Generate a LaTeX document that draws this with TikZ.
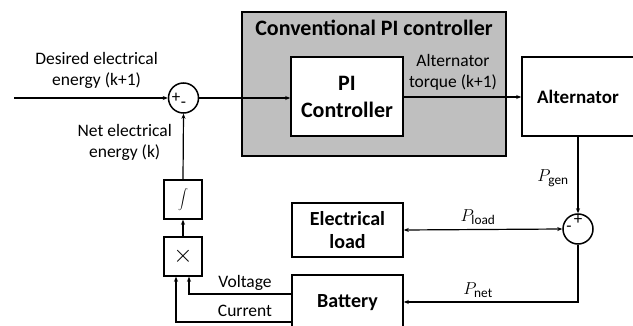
\documentclass[tikz,border=0pt]{standalone}
\usepackage{fontspec}
\setmainfont{Carlito}
\usetikzlibrary{arrows.meta}
\begin{document}
\begin{tikzpicture}[x=1pt,y=-1pt,
  every node/.style={font=\fontsize{17.5}{21}\selectfont, inner sep=0pt},
  blk/.style={draw, line width=1.6pt, fill=white, minimum width=#1, align=center, font=\fontsize{20}{23}\selectfont\bfseries},
  sumc/.style={draw, circle, line width=1.5pt, minimum size=30pt},
  arr/.style={line width=1.2pt, -{Stealth[length=5pt,width=4pt]}},
  darr/.style={line width=1.2pt, {Stealth[length=5pt,width=4pt]}-{Stealth[length=5pt,width=4pt]}},
  lbl/.style={align=center},
  sgn/.style={font=\fontsize{17}{17}\selectfont}]
\clip (0,0) rectangle (633,326);
\fill[white] (0,0) rectangle (633,326);
% gray container
\node[draw, line width=1.6pt, fill=gray!50, minimum width=264pt, minimum height=144pt] (pic) at (374,84) {};
\node[font=\fontsize{22}{25}\selectfont\bfseries] (pictitle) at (374,28) {Conventional PI controller};
% blocks
\node[blk=112pt, minimum height=79pt, font=\fontsize{22}{26}\selectfont\bfseries] (pi) at (347,96.5) {PI\\[1pt]Controller};
\node[blk=112pt, minimum height=79pt, font=\fontsize{19}{22}\selectfont\bfseries] (alt) at (578,96.5) {Alternator};
\node[blk=111pt, minimum height=54pt] (load) at (347.5,230) {Electrical\\load};
\node[blk=111pt, minimum height=56pt] (bat) at (347.5,303) {Battery};
\node[draw, line width=1.5pt, minimum width=38pt, minimum height=39pt, font=\fontsize{22}{24}\selectfont] (int) at (183,199.5) {$\displaystyle\int$};
\node[draw, line width=1.5pt, minimum width=38pt, minimum height=39pt, font=\fontsize{24}{26}\selectfont] (mul) at (183,256.5) {$\times$};
% summing junctions
\node[sumc] (s1) at (183.5,98) {};
\node[sgn] at (176,98) {+};
\node[sgn] at (183.5,105) {-};
\node[sumc] (s2) at (578,229) {};
\node[sgn] at (578,220) {+};
\node[sgn] at (569,229) {-};
% coordinates
\coordinate (in) at (14,98);
\coordinate (c1) at (578,302);
\coordinate (v1) at (189,294);
\coordinate (i1) at (176,322);
% connectors
\draw[arr] (in) -- (s1.west);
\draw[arr] (s1.east) -- (pi.west |- s1.east);
\draw[arr] (pi.east |- 0,97) -- (alt.west |- 0,97);
\draw[arr] (alt.south) -- (s2.north);
\draw[darr] (load.east) -- (s2.west);
\draw[arr] (s2.south) -- (c1) -- (bat.east |- c1);
\draw[arr] (int.north) -- (s1.south);
\draw[arr] (mul.north) -- (int.south);
\draw[arr] (bat.west |- v1) -- (v1) -- (v1 |- mul.south);
\draw[arr] (bat.west |- i1) -- (i1) -- (i1 |- mul.south);
% labels
\node[lbl, anchor=east] (l1) at (158,70) {Desired electrical\\energy (k+1)};
\node[lbl, anchor=east] (l2) at (172,142) {Net electrical\\energy (k)};
\node[lbl] (l3) at (453,72) {Alternator\\torque (k+1)};
\node[font=\fontsize{19}{21}\selectfont] (l4) at (553,178) {$P_{\mathrm{gen}}$};
\node[font=\fontsize{19}{21}\selectfont] (l5) at (478,217) {$P_{\mathrm{load}}$};
\node[font=\fontsize{19}{21}\selectfont] (l6) at (478,290) {$P_{\mathrm{net}}$};
\node (l7) at (245,283) {Voltage};
\node (l8) at (245,311) {Current};
\end{tikzpicture}
\end{document}
